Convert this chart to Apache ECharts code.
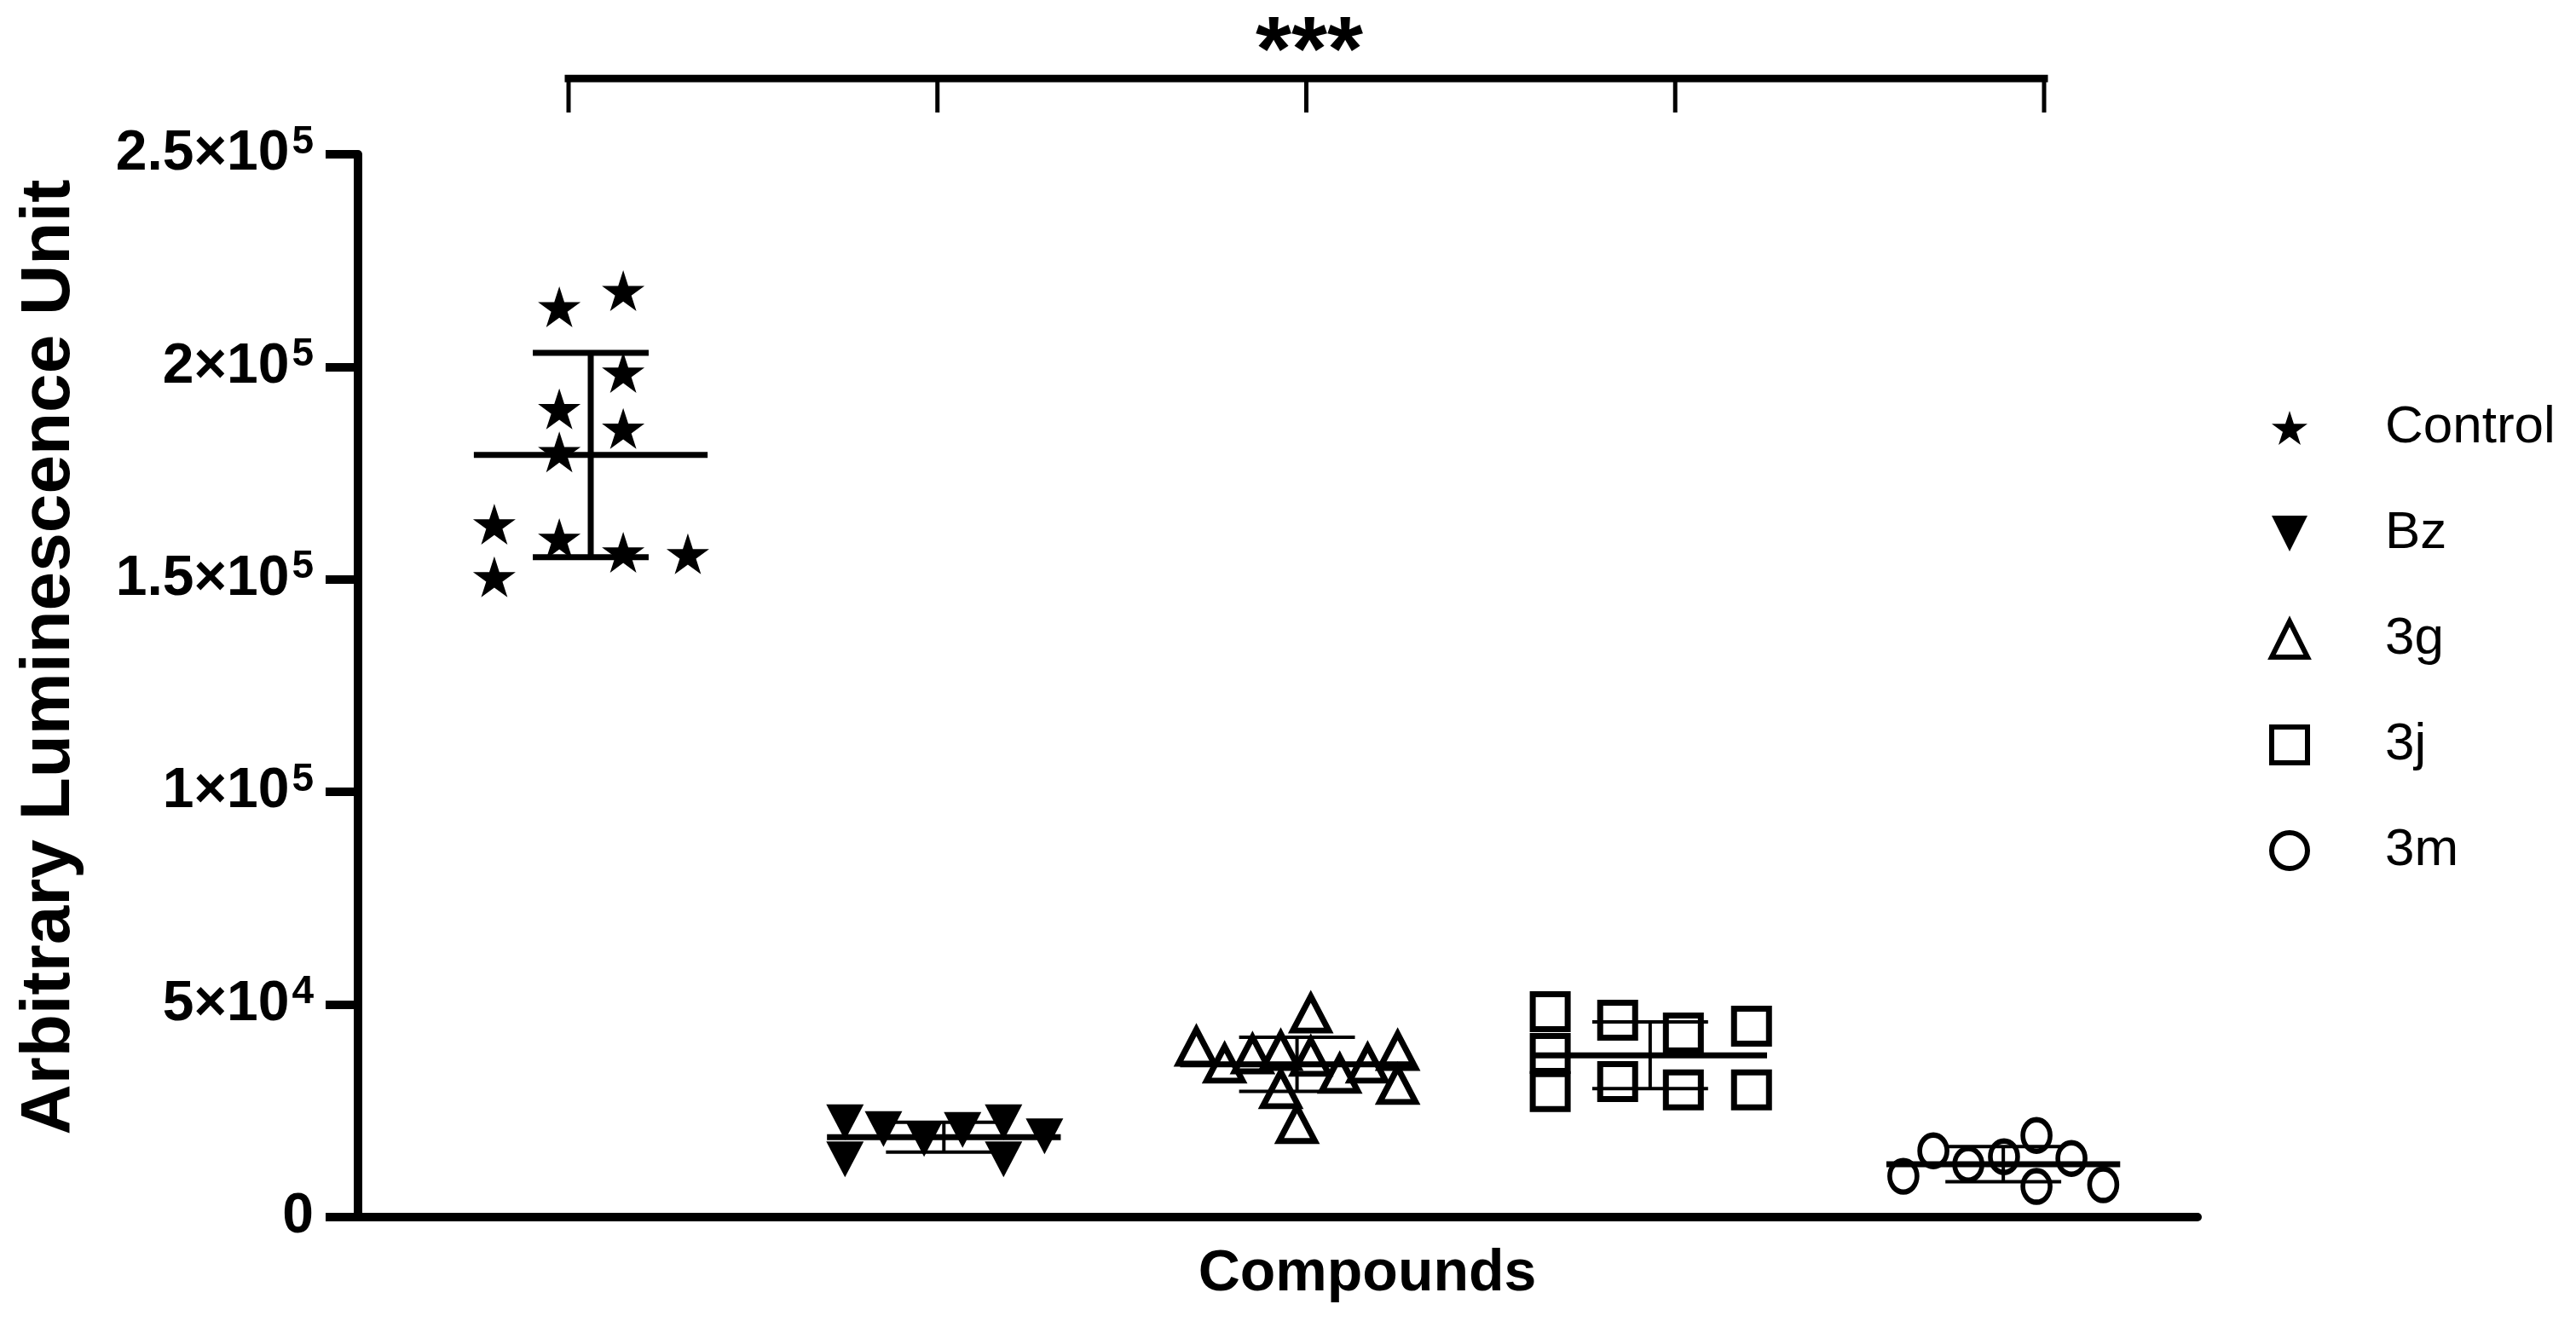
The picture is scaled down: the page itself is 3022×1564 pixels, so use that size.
<!DOCTYPE html>
<html>
<head>
<meta charset="utf-8">
<script src="https://cdn.jsdelivr.net/npm/echarts@6/dist/echarts.min.js"></script>
<style>html,body{margin:0;padding:0;background:#fff}#c{width:3022px;height:1564px}</style>
</head>
<body>
<div id="c"></div>
<script>
// ---- data ----
const categories = ['Control', 'Bz', '3g', '3j', '3m'];

const controlOffset = [-0.089, 0.092, 0.092, -0.089, 0.092, -0.089, -0.273, -0.089, -0.273, 0.092, 0.275];
const controlValue  = [214100, 217900, 198700, 190100, 185500, 180000, 163000, 159600, 150600, 156400, 156000];

const bzOffset = [-0.28, -0.28, -0.171, -0.056, 0.053, 0.169, 0.169, 0.285];
const bzValue  = [22300, 13600, 20700, 18400, 20500, 22300, 13600, 19000];

const g3Offset = [-0.285, -0.205, -0.126, -0.046, 0.039, 0.039, -0.046, 0.0, 0.121, 0.2, 0.285, 0.285];
const g3Value  = [40100, 36100, 38300, 39100, 47900, 37700, 30100, 21900, 33700, 36100, 39100, 31100];

const j3Offset = [-0.283, -0.283, -0.283, -0.092, -0.092, 0.094, 0.094, 0.287, 0.287];
const j3Value  = [48300, 38500, 29500, 46300, 31900, 43300, 29900, 44900, 29900];

const m3Offset = [-0.283, -0.198, -0.099, 0.002, 0.094, 0.094, 0.193, 0.283];
const m3Value  = [9600, 15600, 12400, 14200, 19200, 7200, 13800, 7600];

const yTicks    = [0, 50000, 100000, 150000, 200000, 250000];
const yTickBase = ['0', '5×10', '1×10', '1.5×10', '2×10', '2.5×10'];
const yTickExp  = ['', '4', '5', '5', '5', '5'];

const yTitle = 'Arbitrary Luminescence Unit';
const xTitle = 'Compounds';
const significance = '***';
const bracketPositions = [0, 1, 2, 3, 4];

// ---- styling ----
const FONT = '"Liberation Sans", Arial, Helvetica, sans-serif';
const STAR = 'path://M50,0 L61.23,34.55 L97.55,34.55 L68.17,55.9 L79.39,90.45 L50,69.1 L20.61,90.45 L31.83,55.9 L2.45,34.55 L38.77,34.55 Z';
const DOWN = 'path://M0,0 L100,0 L50,100 Z';

function pts(offsets, values, idx) {
  return values.map((v, i) => [idx + offsets[i], v]);
}
function stats(values) {
  const n = values.length;
  const mean = values.reduce((a, b) => a + b, 0) / n;
  const sd = Math.sqrt(values.reduce((a, b) => a + (b - mean) * (b - mean), 0) / (n - 1));
  return [mean, sd];
}
const groupValues = [controlValue, bzValue, g3Value, j3Value, m3Value];
const errData = groupValues.map((vals, i) => {
  const s = stats(vals);
  return [i, s[0], s[1], i === 0 ? 7 : 4];
});

const bracketPath = [];
bracketPositions.forEach((p, i) => {
  if (i > 0) bracketPath.push([p, 1]);
  bracketPath.push([p, 0]);
  bracketPath.push([p, 1]);
});

const solid = { color: '#000', opacity: 1 };
const hollow = { color: 'rgba(0,0,0,0)', borderColor: '#000', opacity: 1 };

const chart = echarts.init(document.getElementById('c'), null, { renderer: 'canvas' });
chart.setOption({
  animation: false,
  backgroundColor: '#fff',
  grid: [
    { left: 420, right: 444, top: 181, bottom: 136, outerBoundsMode: 'none' },
    { left: 667, right: 624, top: 92, height: 40, outerBoundsMode: 'none' }
  ],
  xAxis: [
    { type: 'value', gridIndex: 0, min: -0.659, max: 4.55,
      axisLine: { show: true, onZero: false, lineStyle: { color: '#000', width: 10 } },
      axisTick: { show: false }, axisLabel: { show: false }, splitLine: { show: false } },
    { type: 'value', gridIndex: 1, min: 0, max: 4, show: false }
  ],
  yAxis: [
    { type: 'value', gridIndex: 0, min: 0, max: 250000, interval: 50000,
      axisLine: { show: true, onZero: false, lineStyle: { color: '#000', width: 10 } },
      axisTick: { show: true, length: 38, lineStyle: { color: '#000', width: 10 } },
      splitLine: { show: false },
      axisLabel: {
        margin: 52, color: '#000', fontFamily: FONT, fontSize: 66, fontWeight: 'bold',
        formatter: function (v) {
          const k = yTicks.indexOf(v);
          if (k < 0) return '';
          return yTickExp[k] ? '{m|' + yTickBase[k] + '}{s|' + yTickExp[k] + '}' : '{m|' + yTickBase[k] + '}';
        },
        rich: {
          m: { fontFamily: FONT, fontSize: 66, fontWeight: 'bold', color: '#000', lineHeight: 74 },
          s: { fontFamily: FONT, fontSize: 46, fontWeight: 'bold', color: '#000', verticalAlign: 'top', lineHeight: 74, padding: [0, 0, 18, 3] }
        }
      } },
    { type: 'value', gridIndex: 1, min: 0, max: 1, show: false }
  ],
  legend: {
    orient: 'vertical', left: 2657, top: 466,
    itemWidth: 42, itemHeight: 42, itemGap: 62,
    data: [
      { name: categories[0], itemStyle: { color: '#000', opacity: 1 } },
      { name: categories[1], itemStyle: { color: '#000', opacity: 1 } },
      { name: categories[2], itemStyle: { color: '#fff', borderColor: '#000', borderWidth: 6, opacity: 1 } },
      { name: categories[3], itemStyle: { color: '#fff', borderColor: '#000', borderWidth: 6, opacity: 1 } },
      { name: categories[4], itemStyle: { color: '#fff', borderColor: '#000', borderWidth: 6, opacity: 1 } }
    ],
    textStyle: { fontFamily: FONT, fontSize: 62, color: '#000', lineHeight: 62, padding: [0, 0, 0, 86] }
  },
  graphic: [
    { type: 'text', x: 1536, y: 64, silent: true,
      style: { text: significance, font: 'bold 108px ' + FONT, fill: '#000', align: 'center', verticalAlign: 'middle' } },
    { type: 'text', x: 58, y: 771, rotation: Math.PI / 2, silent: true,
      style: { text: yTitle, font: 'bold 82px ' + FONT, fill: '#000', align: 'center', verticalAlign: 'middle' } },
    { type: 'text', x: 1604, y: 1495, silent: true,
      style: { text: xTitle, font: 'bold 68px ' + FONT, fill: '#000', align: 'center', verticalAlign: 'middle' } }
  ],
  series: [
    { name: 'Control', type: 'scatter', data: pts(controlOffset, controlValue, 0),
      symbol: STAR, symbolSize: [50, 48], itemStyle: solid, z: 3 },
    { name: 'Bz', type: 'scatter', data: pts(bzOffset, bzValue, 1),
      symbol: DOWN, symbolSize: [44, 42], itemStyle: solid, z: 3 },
    { name: '3g', type: 'scatter', data: pts(g3Offset, g3Value, 2),
      symbol: 'triangle', symbolSize: [42, 40], itemStyle: Object.assign({ borderWidth: 7 }, hollow), z: 3 },
    { name: '3j', type: 'scatter', data: pts(j3Offset, j3Value, 3),
      symbol: 'rect', symbolSize: [41, 41], itemStyle: Object.assign({ borderWidth: 7 }, hollow), z: 3 },
    { name: '3m', type: 'scatter', data: pts(m3Offset, m3Value, 4),
      symbol: 'circle', symbolSize: [32, 37], itemStyle: Object.assign({ borderWidth: 6 }, hollow), z: 3 },
    { type: 'custom', xAxisIndex: 0, yAxisIndex: 0, z: 5, silent: true,
      data: errData, encode: { x: 0, y: 1 },
      renderItem: function (params, api) {
        const x = api.value(0), m = api.value(1), s = api.value(2), w = api.value(3);
        const P = (a, b) => api.coord([a, b]);
        const seg = (a, b, lw) => ({ type: 'line', shape: { x1: a[0], y1: a[1], x2: b[0], y2: b[1] }, style: { stroke: '#000', lineWidth: lw } });
        return { type: 'group', children: [
          seg(P(x - 0.331, m), P(x + 0.331, m), 7),
          seg(P(x, m - s), P(x, m + s), w),
          seg(P(x - 0.164, m + s), P(x + 0.164, m + s), w),
          seg(P(x - 0.164, m - s), P(x + 0.164, m - s), w)
        ] };
      } },
    { type: 'line', xAxisIndex: 1, yAxisIndex: 1, data: bracketPath, symbol: 'none', silent: true,
      lineStyle: { color: '#000', width: 5 }, z: 4 },
    { type: 'line', xAxisIndex: 1, yAxisIndex: 1, data: [[bracketPositions[0], 1], [bracketPositions[bracketPositions.length - 1], 1]],
      symbol: 'none', silent: true, lineStyle: { color: '#000', width: 9, cap: 'square' }, z: 5 }
  ]
});
</script>
</body>
</html>
